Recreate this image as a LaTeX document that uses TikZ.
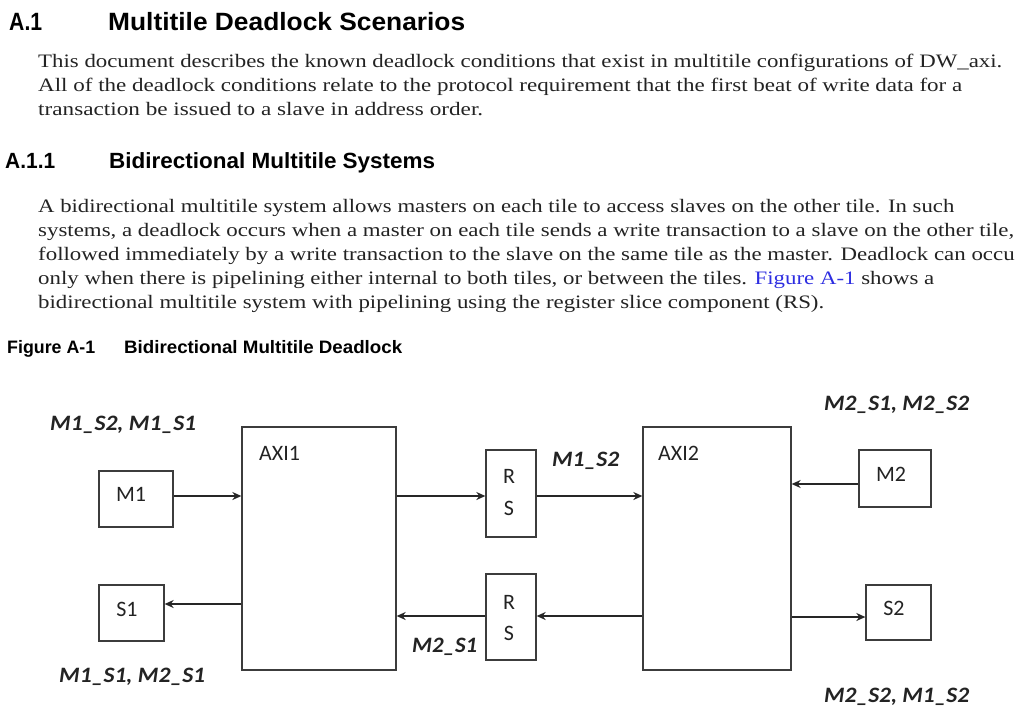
\documentclass[tikz,border=0pt]{standalone}
\usepackage{fontspec}
\setmainfont{Liberation Serif}
\setsansfont{Liberation Sans}
\newfontfamily\calibrifont{Carlito}
\usepackage{graphicx}
\newcommand\fitw[2]{\resizebox{#1}{\height}{#2}}
\usetikzlibrary{arrows.meta}
\definecolor{ink}{RGB}{35,35,35}
\definecolor{linkblue}{RGB}{45,45,225}
\definecolor{edge}{RGB}{60,60,60}
\tikzset{
  body/.style={anchor=base west, inner sep=0pt, text=ink, font=\rmfamily\fontsize{19}{22}\selectfont},
  head/.style={anchor=base west, inner sep=0pt, text=black, font=\sffamily\bfseries\fontsize{25}{30}\selectfont},
  subhead/.style={anchor=base west, inner sep=0pt, text=black, font=\sffamily\bfseries\fontsize{22}{26}\selectfont},
  caption/.style={anchor=base west, inner sep=0pt, text=black, font=\sffamily\bfseries\fontsize{18}{20}\selectfont},
  blk/.style={draw=edge, line width=1.3pt, fill=white, inner sep=0pt},
  blktext/.style={inner sep=0pt, text=ink, font=\calibrifont\fontsize{22}{26}\selectfont},
  lbl/.style={anchor=base west, inner sep=0pt, text=ink, font=\calibrifont\bfseries\itshape\fontsize{22}{26}\selectfont},
  arr/.style={draw=black!85, line width=1.4pt, -{Stealth[length=9pt,width=8pt]}},
}
\begin{document}
\begin{tikzpicture}[x=1pt,y=-1pt]
\useasboundingbox (0,0) rectangle (1015,718);
\clip (0,0) rectangle (1015,718);
\fill[white] (0,0) rectangle (1015,718);
% headings and text
\node[head] (h1n) at (9,30) {\fitw{33pt}{A.1}};
\node[head] (h1t) at (108,30) {\fitw{357pt}{Multitile Deadlock Scenarios}};
\node[body] (p1a) at (38,67) {\fitw{964pt}{This document describes the known deadlock conditions that exist in multitile configurations of DW\_axi.}};
\node[body] (p1b) at (38,91) {\fitw{924pt}{All of the deadlock conditions relate to the protocol requirement that the first beat of write data for a}};
\node[body] (p1c) at (38,115) {\fitw{445pt}{transaction be issued to a slave in address order.}};
\node[subhead] (h2n) at (5,168) {\fitw{50pt}{A.1.1}};
\node[subhead] (h2t) at (109,168) {\fitw{326pt}{Bidirectional Multitile Systems}};
\node[body] (p2a) at (38,212) {\fitw{916pt}{A bidirectional multitile system allows masters on each tile to access slaves on the other tile. In such}};
\node[body] (p2b) at (38,236) {\fitw{976pt}{systems, a deadlock occurs when a master on each tile sends a write transaction to a slave on the other tile,}};
\node[body] (p2c) at (38,260) {\fitw{984pt}{followed immediately by a write transaction to the slave on the same tile as the master. Deadlock can occur}};
\node[body] (p2d) at (38,284) {\fitw{896pt}{only when there is pipelining either internal to both tiles, or between the tiles. \textcolor{linkblue}{Figure A-1} shows a}};
\node[body] (p2e) at (38,308) {\fitw{786pt}{bidirectional multitile system with pipelining using the register slice component (RS).}};
\node[caption] (capn) at (7,353) {\fitw{88pt}{Figure A-1}};
\node[caption] (capt) at (124,353) {\fitw{278pt}{Bidirectional Multitile Deadlock}};
% blocks
\node[blk, minimum width=74pt, minimum height=56pt] (M1) at (136,499) {};
\node[blktext] (M1t) at (131,494) {M1};
\node[blk, minimum width=65pt, minimum height=56pt] (S1) at (131.5,613) {};
\node[blktext] (S1t) at (127,609) {S1};
\node[blk, minimum width=154pt, minimum height=243pt] (AXI1) at (319,548.5) {};
\node[blktext, anchor=west] (AXI1t) at (259,453) {AXI1};
\node[blk, minimum width=50pt, minimum height=87pt] (RS1) at (511,493.5) {};
\node[blktext] (RS1r) at (509,476) {R};
\node[blktext] (RS1s) at (509,508) {S};
\node[blk, minimum width=50pt, minimum height=86pt] (RS2) at (511,617) {};
\node[blktext] (RS2r) at (509,602) {R};
\node[blktext] (RS2s) at (509,633) {S};
\node[blk, minimum width=148pt, minimum height=243pt] (AXI2) at (717,548.5) {};
\node[blktext, anchor=west] (AXI2t) at (658,453) {AXI2};
\node[blk, minimum width=72pt, minimum height=57pt] (M2) at (895,478.5) {};
\node[blktext] (M2t) at (891,474) {M2};
\node[blk, minimum width=65pt, minimum height=55pt] (S2) at (898.5,612.5) {};
\node[blktext] (S2t) at (894,608) {S2};
% connectors
\draw[arr] (M1.east |- 0,496) -- (AXI1.west |- 0,496);
\draw[arr] (AXI1.east |- 0,496) -- (RS1.west |- 0,496);
\draw[arr] (RS1.east |- 0,496) -- (AXI2.west |- 0,496);
\draw[arr] (M2.west |- 0,484) -- (AXI2.east |- 0,484);
\draw[arr] (AXI1.west |- 0,604) -- (S1.east |- 0,604);
\draw[arr] (AXI2.west |- 0,616) -- (RS2.east |- 0,616);
\draw[arr] (RS2.west |- 0,616) -- (AXI1.east |- 0,616);
\draw[arr] (AXI2.east |- 0,617) -- (S2.west |- 0,617);
% labels
\node[lbl] (L1) at (50,430) {\fitw{146pt}{M1\_S2, M1\_S1}};
\node[lbl] (L2) at (552,466) {\fitw{67pt}{M1\_S2}};
\node[lbl] (L3) at (824,410) {\fitw{145pt}{M2\_S1, M2\_S2}};
\node[lbl] (L4) at (412,652) {\fitw{65pt}{M2\_S1}};
\node[lbl] (L5) at (59,682) {\fitw{146pt}{M1\_S1, M2\_S1}};
\node[lbl] (L6) at (824,702) {\fitw{145pt}{M2\_S2, M1\_S2}};
\end{tikzpicture}
\end{document}
